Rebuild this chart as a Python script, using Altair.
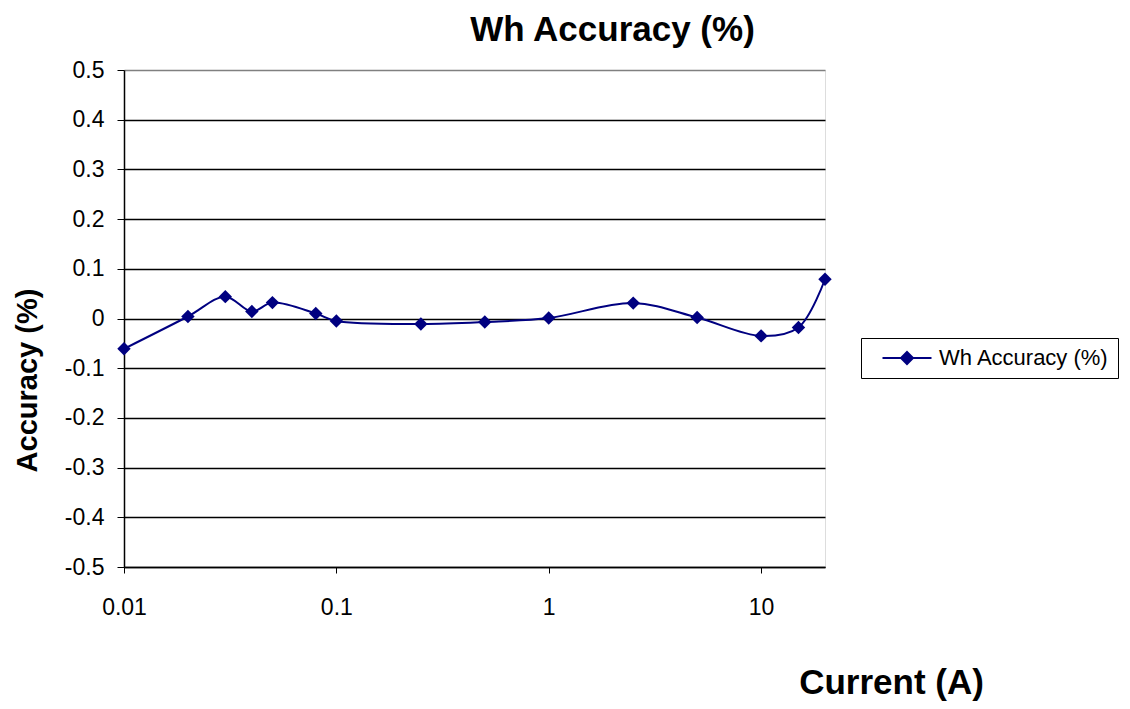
import altair as alt
import pandas as pd

current = [0.01, 0.02, 0.03, 0.04, 0.05, 0.08, 0.1, 0.25, 0.5, 1, 2.5, 5, 10, 15, 20]
accuracy = [-0.061, 0.004, 0.044, 0.014, 0.032, 0.010, -0.005, -0.011, -0.007, 0.001, 0.031, 0.002, -0.035, -0.018, 0.079]
series_name = "Wh Accuracy (%)"
x_ticks = [0.01, 0.1, 1, 10]
y_ticks = [-0.5, -0.4, -0.3, -0.2, -0.1, 0, 0.1, 0.2, 0.3, 0.4, 0.5]

df = pd.DataFrame({"current": current, "accuracy": accuracy, "series": [series_name] * len(current)})

FONT = "Liberation Sans"
NAVY = "#000080"

x_enc = alt.X(
    "current:Q",
    scale=alt.Scale(type="log", domain=[0.01, 20], nice=False),
    axis=alt.Axis(
        values=x_ticks, labelExpr="toString(datum.value)", grid=False, domainColor="black",
        domainWidth=1.5, tickColor="black", tickSize=6, labelPadding=23, labelFontSize=23,
        labelFont=FONT, labelColor="black", title="Current (A)", titleFont=FONT,
        titleFontSize=35, titleFontWeight="bold", titleX=767, titleY=115, titleAlign="center",
        titleBaseline="middle", titleColor="black", labelFlush=False,
    ),
)
y_enc = alt.Y(
    "accuracy:Q",
    scale=alt.Scale(domain=[-0.5, 0.5], nice=False),
    axis=alt.Axis(
        values=y_ticks, labelExpr="toString(datum.value)", grid=True,
        gridColor={"condition": {"test": "datum.value === 0.5", "value": "#808080"}, "value": "black"},
        gridWidth=1.5, domainColor="black", domainWidth=1.5, tickColor="black", tickSize=7,
        labelPadding=13, labelFontSize=23, labelFont=FONT, labelColor="black",
        title="Accuracy (%)", titleFont=FONT, titleFontSize=29, titleFontWeight="bold",
        titleX=-97, titleY=310, titleAlign="center", titleBaseline="middle", titleAngle=270,
        titleColor="black",
    ),
)
color_enc = alt.Color(
    "series:N",
    scale=alt.Scale(range=[NAVY]),
    legend=alt.Legend(
        title=None, orient="none", legendX=737, legendY=268, padding=9,
        strokeColor="black", fillColor="white", labelFont=FONT, labelFontSize=22,
        labelColor="black", labelLimit=400,
        symbolType="M-2.45,0H2.45M0,-0.6L0.6,0L0,0.6L-0.6,0Z",
        symbolSize=400, symbolStrokeWidth=2, symbolFillColor=NAVY, symbolStrokeColor=NAVY,
        symbolOffset=26, labelOffset=21,
    ),
)

line = alt.Chart(df).mark_line(interpolate="catmull-rom", strokeWidth=2, color=NAVY).encode(
    x=x_enc, y=y_enc
)
points = alt.Chart(df).mark_point(shape="diamond", filled=True, size=180, opacity=1).encode(
    x=x_enc, y=y_enc, color=color_enc
)

chart = (
    alt.layer(line, points)
    .properties(
        width=701, height=497,
        autosize=alt.AutoSizeParams(type="none"),
        padding={"left": 116, "top": 62, "right": 297, "bottom": 134},
        title=alt.TitleParams(
            text="Wh Accuracy (%)", font=FONT, fontSize=35, fontWeight="bold", color="black",
            anchor="middle", dx=138, offset=11,
        ),
    )
    .configure_view(stroke="#808080", strokeWidth=1.5)
    .configure(background="white")
)

chart.save("out.html", embed_options={"renderer": "svg", "actions": False})
